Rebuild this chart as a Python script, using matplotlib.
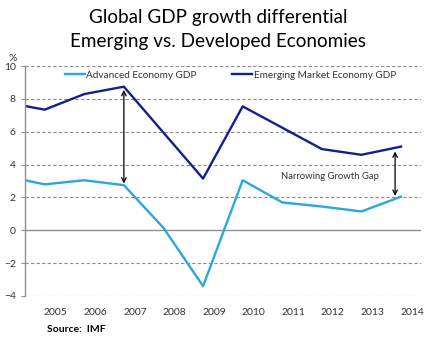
import numpy as np
import matplotlib
matplotlib.use("Agg")
import matplotlib.pyplot as plt
import matplotlib.transforms as mtransforms

plt.rcParams['font.family'] = ['Lato', 'DejaVu Sans']

# IMF real GDP growth, % per year (2004 point is only partly shown)
years = [2004, 2005, 2006, 2007, 2008, 2009, 2010, 2011, 2012, 2013, 2014]
advanced = [3.3, 2.8, 3.05, 2.75, 0.15, -3.4, 3.05, 1.7, 1.45, 1.15, 2.05]
emerging = [7.8, 7.35, 8.3, 8.75, 5.95, 3.15, 7.55, 6.25, 4.95, 4.6, 5.1]
tick_years = [2005, 2006, 2007, 2008, 2009, 2010, 2011, 2012, 2013, 2014]
y_ticks = [-4, -2, 0, 2, 4, 6, 8, 10]

# gap markers: (x, lower, upper)
gap_2007 = (2007, 2.85, 8.55)
gap_2014 = (2013.85, 2.1, 4.8)

c_adv = '#2aa7dd'
c_em = '#14208a'
grid_c = '#8c8c8c'
txt_c = '#333333'

fig = plt.figure(figsize=(4.37, 3.41), dpi=100)
ax = fig.add_axes([0.057, 0.132, 0.906, 0.674])

ax.plot(years, advanced, color=c_adv, lw=1.7, label='Advanced Economy GDP')
ax.plot(years, emerging, color=c_em, lw=1.7, label='Emerging Market Economy GDP')

ax.set_xlim(2004.5, 2014.5)
ax.set_ylim(-4, 10)

for y in y_ticks:
    if y == 0:
        ax.axhline(y, color='#909090', lw=1.0, zorder=0)
    else:
        ax.axhline(y, color=grid_c, lw=0.8, ls=(0, (3, 2)), zorder=0)

for sp in ['top', 'right', 'bottom']:
    ax.spines[sp].set_visible(False)
ax.spines['left'].set_color('#909090')
ax.spines['left'].set_linewidth(1.0)

ax.set_yticks(y_ticks)
ax.set_xticks(tick_years)
ax.tick_params(axis='x', length=0, labelsize=7.5, pad=9, colors=txt_c)
ax.tick_params(axis='y', length=3, labelsize=7.5, colors=txt_c, color='#909090')
ax.set_xticklabels([str(y) for y in tick_years])
offset = mtransforms.ScaledTranslation(0.11, 0, fig.dpi_scale_trans)
for lab in ax.get_xticklabels():
    lab.set_transform(lab.get_transform() + offset)

ax.text(-0.03, 1.015, '%', transform=ax.transAxes, fontsize=7.5, ha='center',
        va='bottom', color=txt_c)

# gap arrows
for x, lo, hi in (gap_2007, gap_2014):
    ax.annotate('', xy=(x, hi), xytext=(x, lo),
                arrowprops=dict(arrowstyle='<->', color='black', lw=0.9,
                                mutation_scale=8, shrinkA=0, shrinkB=0))
ax.text(2012.2, 3.3, 'Narrowing Growth Gap', fontsize=6.8, ha='center',
        va='center', color=txt_c)

# inline legend
leg = ax.legend(loc='center left', bbox_to_anchor=(0.1, 0.961), ncol=2,
                frameon=False, fontsize=7.2, handlelength=2.0, handletextpad=0.15,
                columnspacing=3.6, borderpad=0, borderaxespad=0)
for t in leg.get_texts():
    t.set_color(txt_c)

fig.text(0.5, 0.950, 'Global GDP growth differential',
         ha='center', va='center', fontsize=13.6)
fig.text(0.5, 0.877, 'Emerging vs. Developed Economies',
         ha='center', va='center', fontsize=13.6)
fig.text(0.108, 0.02, 'Source:  IMF', fontsize=7.5, fontweight='bold',
         ha='left', va='bottom')

fig.savefig('out.png', dpi=100)
